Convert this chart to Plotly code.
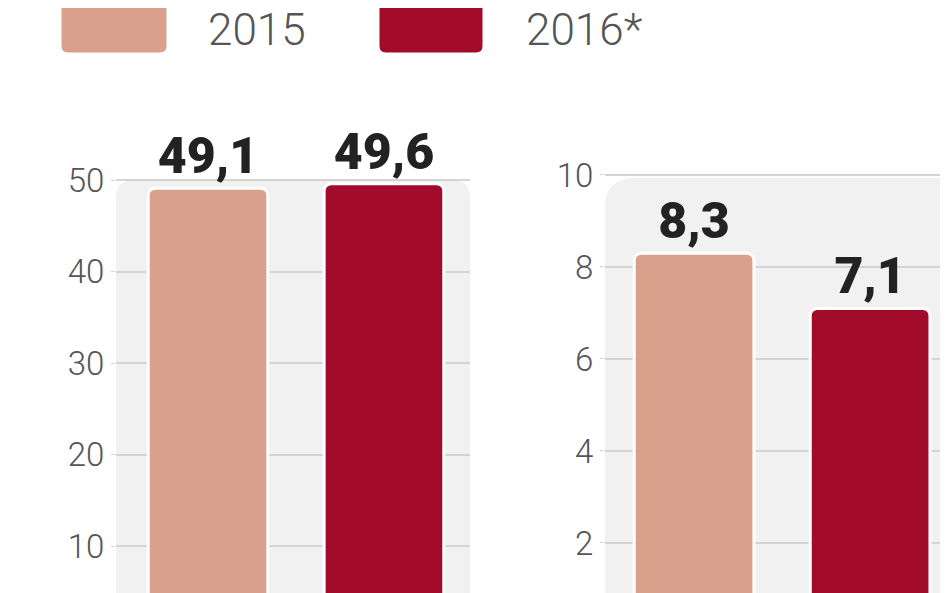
import plotly.graph_objects as go

years = ["2015", "2016*"]
left_values = [49.1, 49.6]
right_values = [8.3, 7.1]
left_ticks = [10, 20, 30, 40, 50]
right_ticks = [2, 4, 6, 8, 10]
colors = ["#d9a18b", "#a20b2a"]

W, H = 948, 593
def px(x): return x / W
def py(y): return 1 - y / H

fig = go.Figure()
for vals, xa, ya in [(left_values, "x", "y"), (right_values, "x2", "y2")]:
    fig.add_trace(go.Bar(
        x=[0, 1], y=vals, xaxis=xa, yaxis=ya, width=0.68,
        marker=dict(color=colors, line=dict(color="white", width=3), cornerradius=7),
        texttemplate="%{y:.1f}", textposition="outside", cliponaxis=False,
        textfont=dict(family="Roboto", size=50, color="#222", weight=900),
        showlegend=False, hoverinfo="skip"))

axis_font = dict(family="Roboto", size=33, color="#555", weight=300)
fig.update_layout(
    width=W, height=H, margin=dict(l=0, r=0, t=0, b=0),
    paper_bgcolor="white", plot_bgcolor="rgba(0,0,0,0)", separators=",.",
    xaxis=dict(domain=[px(108), px(462)], range=[-0.523, 1.489], visible=False),
    yaxis=dict(domain=[0, 1], range=[3.99, 68.8], tickvals=left_ticks, showgrid=True,
               gridcolor="#d4d4d4", gridwidth=2, zeroline=False, tickfont=axis_font,
               ticks="outside", ticklen=4, tickcolor="#d4d4d4", anchor="x"),
    xaxis2=dict(domain=[px(597), 1], range=[-0.506, 1.488], visible=False, anchor="y2"),
    yaxis2=dict(domain=[0, 1], range=[0.739, 13.63], tickvals=right_ticks, showgrid=True,
                gridcolor="#d4d4d4", gridwidth=2, zeroline=False, tickfont=axis_font,
                ticks="outside", ticklen=4, tickcolor="#d4d4d4", anchor="x2"),
)

def rounded_top(x0, x1, ytop, r=18):
    return (f"M {px(x0)},0 L {px(x0)},{py(ytop + r)} Q {px(x0)},{py(ytop)} {px(x0 + r)},{py(ytop)} "
            f"L {px(x1 - r)},{py(ytop)} Q {px(x1)},{py(ytop)} {px(x1)},{py(ytop + r)} L {px(x1)},0 Z")

def rounded_box(x0, x1, y0, y1, r=8):
    return (f"M {px(x0 + r)},{py(y0)} L {px(x1 - r)},{py(y0)} Q {px(x1)},{py(y0)} {px(x1)},{py(y0 + r)} "
            f"L {px(x1)},{py(y1 - r)} Q {px(x1)},{py(y1)} {px(x1 - r)},{py(y1)} "
            f"L {px(x0 + r)},{py(y1)} Q {px(x0)},{py(y1)} {px(x0)},{py(y1 - r)} "
            f"L {px(x0)},{py(y0 + r)} Q {px(x0)},{py(y0)} {px(x0 + r)},{py(y0)} Z")

shapes = [
    dict(type="path", xref="paper", yref="paper", path=rounded_top(108, 462, 172),
         fillcolor="#f1f1f1", line=dict(width=0), layer="below"),
    dict(type="path", xref="paper", yref="paper", path=rounded_top(597, 960, 170, 30),
         fillcolor="#f1f1f1", line=dict(width=0), layer="below"),
]
for i, (x0, x1) in enumerate([(52, 160), (370, 476)]):
    shapes.append(dict(type="path", xref="paper", yref="paper",
                       path=rounded_box(x0, x1, -20, 46), fillcolor=colors[i],
                       line=dict(color="white", width=3), layer="above"))
fig.update_layout(shapes=shapes)

for x, t in [(198, years[0]), (516, years[1])]:
    fig.add_annotation(x=px(x), y=py(22), xref="paper", yref="paper", text=t,
                       showarrow=False, xanchor="left", yanchor="middle",
                       font=dict(family="Roboto", size=44, color="#555", weight=300))

fig.write_html("out.html")
